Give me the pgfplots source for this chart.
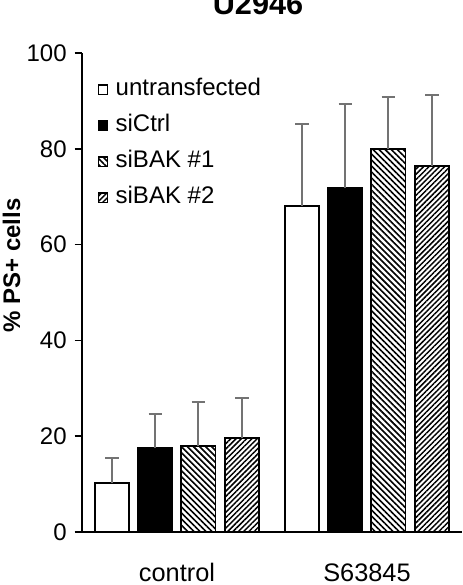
\documentclass[border=0pt]{standalone}
\usepackage{fontspec}
\setmainfont{Liberation Sans}
\usepackage{pgfplots}
\pgfplotsset{compat=1.18}
\usetikzlibrary{patterns.meta}
\begin{document}
\begin{tikzpicture}
\begin{axis}[
  at={(0pt,0pt)}, anchor=south west,
  scale only axis, width=285pt, height=359.25pt,
  xmin=-0.5, xmax=1.5, ymin=0, ymax=100,
  axis x line*=bottom, axis y line*=left,
  axis line style={line width=1.1pt},
  xtick={0,1}, xticklabels={control,S63845},
  major x tick style={draw=none},
  ytick={0,20,40,60,80,100},
  tick align=outside, major tick length=5.5pt,
  major y tick style={line width=1.1pt, black},
  /pgf/number format/assume math mode=true,
  yticklabel style={font=\fontsize{18}{21}\selectfont, xshift=-2.5pt},
  xticklabel style={font=\fontsize{19}{22}\selectfont, anchor=base, yshift=-31.5pt},
  ybar, bar width=0.18,
  every axis plot/.append style={line width=1.1pt, draw=black},
  error bars/error bar style={draw=black!55, line width=1.5pt},
  error bars/error mark options={draw=black!55, line width=1.5pt, mark size=4.9pt, rotate=90},
  legend style={draw=none, fill=none, at={(0.03,0.955)}, anchor=north west,
    font=\fontsize{18}{21}\selectfont, row sep=8.6pt,
    nodes={inner sep=1pt, text height=12.8pt, text depth=3.6pt}},
  legend cell align=left,
  legend image code/.code={\draw[#1, line width=0.9pt] (0pt,-3.5pt) rectangle (7pt,3.5pt); \path (11.5pt,0pt);},
  clip=false,
]
\addplot[fill=white, bar shift=-0.342,
  error bars/.cd, y dir=plus, y explicit]
  coordinates {(0,10.2) +- (0,5.2) (1,68.1) +- (0,17.1)};
\addlegendentry{untransfected}
\addplot[fill=black, bar shift=-0.115,
  error bars/.cd, y dir=plus, y explicit]
  coordinates {(0,17.5) +- (0,7.1) (1,71.8) +- (0,17.6)};
\addlegendentry{siCtrl}
\addplot[fill=white, postaction={pattern={Lines[angle=-45,distance=3.2pt,line width=1.2pt]}}, bar shift=0.112,
  error bars/.cd, y dir=plus, y explicit]
  coordinates {(0,18.0) +- (0,9.1) (1,80.0) +- (0,10.8)};
\addlegendentry{siBAK \#1}
\addplot[fill=white, postaction={pattern={Lines[angle=45,distance=2.8pt,line width=1.1pt]}}, bar shift=0.342,
  error bars/.cd, y dir=plus, y explicit]
  coordinates {(0,19.6) +- (0,8.4) (1,76.4) +- (0,14.8)};
\addlegendentry{siBAK \#2}
\end{axis}
\node[anchor=base, font=\fontsize{23}{26}\selectfont\bfseries] at (132pt,387.75pt) {U2946};
\node[rotate=90, font=\fontsize{18}{21}\selectfont\bfseries] at (-52.9pt,199.9pt) {\% PS+ cells};
\pgfresetboundingbox
\useasboundingbox (-61.5pt,-39.75pt) rectangle (285pt,399pt);
\end{tikzpicture}
\end{document}
